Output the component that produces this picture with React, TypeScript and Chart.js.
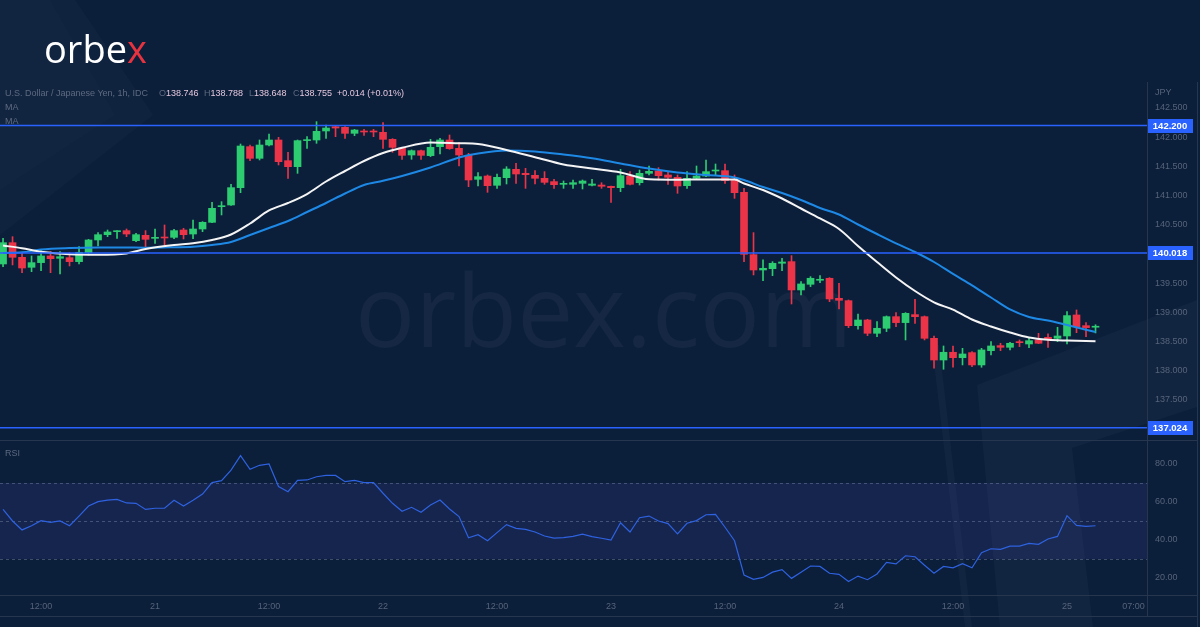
import React, { useEffect, useRef } from 'react';
import { Chart, registerables } from 'chart.js';

Chart.register(...registerables);

// ---------- DATA (USD/JPY, 1h candles, index 0 = 20th 08:00) ----------
const opens = [
  139.829, 140.194, 139.943, 139.772, 139.852, 139.966, 139.926, 139.937, 139.869, 140.023,
  140.240, 140.331, 140.382, 140.400, 140.228, 140.320, 140.268, 140.285, 140.285, 140.411,
  140.342, 140.428, 140.542, 140.810, 140.839, 141.136, 141.838, 141.638, 141.866, 141.952,
  141.598, 141.495, 141.941, 141.952, 142.106, 142.180, 142.169, 142.066, 142.106, 142.100,
  142.083, 141.963, 141.815, 141.695, 141.769, 141.684, 141.838, 141.952, 141.809, 141.689,
  141.278, 141.335, 141.176, 141.307, 141.450, 141.381, 141.347, 141.296, 141.239, 141.193,
  141.193, 141.210, 141.176, 141.181, 141.159, 141.136, 141.335, 141.221, 141.381, 141.421,
  141.353, 141.313, 141.170, 141.296, 141.335, 141.421, 141.427, 141.267, 141.056, 139.989,
  139.726, 139.749, 139.841, 139.869, 139.384, 139.481, 139.550, 139.584, 139.241, 139.201,
  138.773, 138.870, 138.642, 138.728, 138.927, 138.825, 138.962, 138.927, 138.556, 138.185,
  138.317, 138.225, 138.311, 138.100, 138.345, 138.431, 138.402, 138.499, 138.459, 138.528,
  138.573, 138.556, 138.596, 138.956, 138.773, 138.746,
];
const highs = [
  140.268, 140.297, 140.011, 139.966, 140.057, 140.040, 140.040, 140.023, 140.126, 140.251,
  140.365, 140.411, 140.400, 140.428, 140.354, 140.400, 140.428, 140.497, 140.423, 140.440,
  140.582, 140.554, 140.885, 140.896, 141.193, 141.883, 141.866, 141.952, 142.055, 141.998,
  141.741, 141.952, 142.009, 142.266, 142.209, 142.192, 142.180, 142.135, 142.135, 142.135,
  142.249, 141.975, 141.826, 141.781, 141.781, 141.963, 141.980, 142.038, 141.906, 141.724,
  141.393, 141.353, 141.370, 141.495, 141.552, 141.467, 141.427, 141.410, 141.279, 141.250,
  141.267, 141.267, 141.279, 141.221, 141.164, 141.450, 141.410, 141.438, 141.507, 141.478,
  141.410, 141.353, 141.410, 141.507, 141.610, 141.541, 141.541, 141.353, 141.125, 140.366,
  139.898, 139.869, 139.926, 139.972, 139.527, 139.612, 139.629, 139.595, 139.498, 139.213,
  138.973, 138.882, 138.842, 138.939, 138.996, 138.996, 139.224, 138.939, 138.596, 138.425,
  138.425, 138.385, 138.328, 138.385, 138.499, 138.471, 138.488, 138.528, 138.568, 138.642,
  138.631, 138.745, 139.013, 139.042, 138.825, 138.788,
];
const lows = [
  139.783, 139.812, 139.680, 139.697, 139.715, 139.680, 139.658, 139.795, 139.829, 139.983,
  140.137, 140.297, 140.268, 140.297, 140.211, 140.126, 140.183, 140.154, 140.263, 140.257,
  140.263, 140.382, 140.537, 140.668, 140.833, 141.050, 141.598, 141.610, 141.849, 141.524,
  141.296, 141.381, 141.809, 141.895, 141.980, 142.009, 141.980, 142.026, 142.032, 142.009,
  141.809, 141.741, 141.621, 141.621, 141.621, 141.667, 141.712, 141.792, 141.507, 141.153,
  141.164, 141.056, 141.124, 141.199, 141.210, 141.124, 141.199, 141.193, 141.124, 141.124,
  141.124, 141.113, 141.164, 141.124, 140.885, 141.067, 141.181, 141.181, 141.353, 141.267,
  141.193, 141.039, 141.124, 141.279, 141.324, 141.353, 141.210, 140.953, 139.869, 139.641,
  139.544, 139.629, 139.715, 139.144, 139.298, 139.441, 139.510, 139.184, 139.059, 138.739,
  138.711, 138.602, 138.585, 138.671, 138.756, 138.528, 138.813, 138.528, 138.043, 138.026,
  138.060, 138.100, 138.071, 138.060, 138.271, 138.345, 138.357, 138.414, 138.397, 138.465,
  138.402, 138.499, 138.459, 138.653, 138.585, 138.648,
];
const closes = [
  140.194, 139.943, 139.760, 139.852, 139.966, 139.920, 139.954, 139.869, 140.029, 140.240,
  140.331, 140.377, 140.394, 140.342, 140.331, 140.251, 140.280, 140.274, 140.400, 140.331,
  140.428, 140.542, 140.782, 140.822, 141.136, 141.849, 141.638, 141.866, 141.952, 141.581,
  141.495, 141.941, 141.952, 142.100, 142.157, 142.157, 142.066, 142.123, 142.089, 142.089,
  141.963, 141.826, 141.689, 141.769, 141.689, 141.826, 141.952, 141.804, 141.695, 141.267,
  141.324, 141.170, 141.313, 141.455, 141.370, 141.358, 141.296, 141.227, 141.187, 141.210,
  141.221, 141.250, 141.199, 141.159, 141.136, 141.341, 141.193, 141.381, 141.415, 141.341,
  141.313, 141.164, 141.296, 141.335, 141.410, 141.438, 141.256, 141.050, 139.995, 139.726,
  139.755, 139.841, 139.863, 139.384, 139.487, 139.584, 139.567, 139.230, 139.207, 138.773,
  138.870, 138.642, 138.728, 138.927, 138.825, 138.984, 138.927, 138.556, 138.185, 138.317,
  138.225, 138.288, 138.100, 138.357, 138.425, 138.402, 138.471, 138.482, 138.516, 138.471,
  138.539, 138.596, 138.945, 138.756, 138.739, 138.755,
];

// Moving averages read at selected candle indexes
const maIndex = [
  0, 2, 4, 7, 10, 13, 15, 18, 20, 22, 24, 26, 28, 30, 32, 34, 36, 38, 40, 42,
  45, 48, 50, 53, 56, 59, 62, 65, 68, 71, 74, 77, 78, 80, 82, 84, 86, 88, 90, 92,
  94, 96, 98, 100, 102, 104, 106, 108, 110, 112, 115,
];
const maFast = [
  140.146, 140.098, 140.038, 139.995, 139.988, 140.010, 140.086, 140.154, 140.183, 140.240,
  140.334, 140.522, 140.745, 140.873, 141.027, 141.241, 141.421, 141.592, 141.729, 141.818,
  141.911, 141.897, 141.884, 141.781, 141.658, 141.533, 141.464, 141.396, 141.279, 141.272,
  141.277, 141.276, 141.207, 141.096, 140.950, 140.779, 140.608, 140.428, 140.137, 139.863,
  139.598, 139.366, 139.173, 139.046, 138.878, 138.759, 138.656, 138.570, 138.531, 138.517,
  138.505,
];
const maSlow = [
  140.017, 140.029, 140.077, 140.103, 140.113, 140.111, 140.108, 140.115, 140.123, 140.154,
  140.205, 140.325, 140.445, 140.565, 140.719, 140.873, 141.036, 141.182, 141.253, 141.336,
  141.481, 141.652, 141.721, 141.772, 141.755, 141.704, 141.640, 141.550, 141.462, 141.396,
  141.353, 141.310, 141.267, 141.147, 141.045, 140.925, 140.788, 140.676, 140.505, 140.342,
  140.183, 140.034, 139.863, 139.658, 139.464, 139.255, 139.050, 138.921, 138.861, 138.784,
  138.664,
];

const rsiValues = [
  56.1, 50.0, 45.3, 47.5, 50.2, 49.3, 50.0, 47.5, 52.6, 57.9,
  60.2, 61.0, 61.4, 59.5, 59.3, 56.1, 56.7, 56.7, 60.9, 57.9,
  60.9, 64.2, 70.2, 71.2, 76.8, 84.4, 77.2, 79.3, 80.0, 68.1,
  65.4, 71.4, 71.6, 73.3, 74.0, 74.0, 70.7, 71.4, 70.2, 70.2,
  64.6, 59.3, 55.1, 57.2, 54.6, 58.4, 61.0, 56.3, 52.3, 41.2,
  42.8, 39.6, 43.9, 48.1, 46.1, 45.6, 44.2, 42.1, 41.0, 41.2,
  41.9, 43.1, 41.8, 40.9, 40.0, 49.1, 44.2, 51.7, 52.6, 50.0,
  48.6, 43.2, 48.8, 50.2, 53.3, 53.5, 46.7, 39.6, 21.6, 19.3,
  20.3, 23.1, 24.4, 19.8, 23.0, 26.3, 26.1, 22.5, 21.9, 18.2,
  21.0, 19.1, 22.1, 28.2, 27.4, 31.7, 31.2, 26.7, 22.5, 26.1,
  25.3, 27.5, 25.4, 33.3, 35.4, 35.1, 36.8, 36.8, 38.2, 37.7,
  40.5, 41.9, 52.8, 47.7, 47.2, 47.5,
];

const levels = [142.2, 140.018, 137.024];
const priceTicks = [137.5, 138.0, 138.5, 139.0, 139.5, 140.0, 140.5, 141.0, 141.5, 142.0, 142.5];
const rsiTicks = [20, 40, 60, 80];
const rsiBands = [30, 50, 70];
const timeTickIndex = [4, 16, 28, 40, 52, 64, 76, 88, 100, 112, 119];
const timeTickLabels = ['12:00', '21', '12:00', '22', '12:00', '23', '12:00', '24', '12:00', '25', '07:00'];

// visible ranges
const X_MIN = -0.32;
const X_MAX = 120.42;
const PRICE_MIN = 136.815;
const PRICE_MAX = 144.349;
const RSI_MIN = 11.05;
const RSI_MAX = 92.1;

// ---------- STYLE ----------
const BG = '#0b1e3a';
const GREEN = '#2ecc71';
const RED = '#eb3448';
const LEVEL_BLUE = '#2962ff';
const MA_WHITE = '#f4f4f4';
const MA_BLUE = '#1e88e5';
const RSI_BLUE = '#2f62e0';
const AXIS_TEXT = '#56647a';
const LINE_SEP = '#27364f';
const FONT = '"Liberation Sans", Arial, sans-serif';
const AXIS_W = 53;

const zeroPad = (axis: any) => {
  axis.paddingTop = 0;
  axis.paddingBottom = 0;
  axis.paddingLeft = 0;
  axis.paddingRight = 0;
};

const levelPlugin = {
  id: 'levels',
  afterDatasetsDraw(chart: any) {
    const { ctx, chartArea, scales } = chart;
    ctx.save();
    ctx.strokeStyle = LEVEL_BLUE;
    ctx.lineWidth = 1.5;
    levels.forEach((v) => {
      const y = scales.y.getPixelForValue(v);
      ctx.beginPath();
      ctx.moveTo(chartArea.left, y);
      ctx.lineTo(chartArea.right, y);
      ctx.stroke();
    });
    ctx.restore();
  },
  afterDraw(chart: any) {
    const { ctx, chartArea, scales } = chart;
    ctx.save();
    ctx.font = `bold 9.5px ${FONT}`;
    ctx.textAlign = 'center';
    ctx.textBaseline = 'middle';
    levels.forEach((v) => {
      const y = Math.round(scales.y.getPixelForValue(v));
      ctx.fillStyle = LEVEL_BLUE;
      ctx.fillRect(chartArea.right, y - 7, 46, 14);
      ctx.fillStyle = '#ffffff';
      ctx.fillText(v.toFixed(3), chartArea.right + 23, y + 0.5);
    });
    ctx.restore();
  },
};

const bandPlugin = {
  id: 'rsiBand',
  beforeDatasetsDraw(chart: any) {
    const { ctx, chartArea, scales } = chart;
    const yTop = scales.y.getPixelForValue(rsiBands[2]);
    const yBot = scales.y.getPixelForValue(rsiBands[0]);
    ctx.save();
    ctx.fillStyle = 'rgba(60,66,150,0.22)';
    ctx.fillRect(chartArea.left, yTop, chartArea.right - chartArea.left, yBot - yTop);
    ctx.strokeStyle = 'rgba(125,140,170,0.45)';
    ctx.lineWidth = 1;
    ctx.setLineDash([3, 3]);
    rsiBands.forEach((v) => {
      const y = Math.round(scales.y.getPixelForValue(v)) + 0.5;
      ctx.beginPath();
      ctx.moveTo(chartArea.left, y);
      ctx.lineTo(chartArea.right, y);
      ctx.stroke();
    });
    ctx.restore();
  },
};

export default function App() {
  const priceRef = useRef<HTMLCanvasElement>(null);
  const rsiRef = useRef<HTMLCanvasElement>(null);

  useEffect(() => {
    const candleColors = opens.map((o, i) => (closes[i] >= o ? GREEN : RED));
    const bodies = opens.map((o, i) => ({ x: i, y: [o, closes[i]] }));
    const wicks = lows.map((l, i) => ({ x: i, y: [l, highs[i]] }));

    const priceChart = new Chart(priceRef.current as HTMLCanvasElement, {
      type: 'bar',
      data: {
        datasets: [
          {
            type: 'line',
            label: 'MA fast',
            data: maIndex.map((x, k) => ({ x, y: maFast[k] })),
            borderColor: MA_WHITE,
            borderWidth: 2,
            pointRadius: 0,
            cubicInterpolationMode: 'monotone',
            order: 0,
          } as any,
          {
            type: 'line',
            label: 'MA slow',
            data: maIndex.map((x, k) => ({ x, y: maSlow[k] })),
            borderColor: MA_BLUE,
            borderWidth: 2,
            pointRadius: 0,
            cubicInterpolationMode: 'monotone',
            order: 0,
          } as any,
          {
            type: 'bar',
            label: 'body',
            data: bodies,
            backgroundColor: candleColors,
            borderWidth: 0,
            barThickness: 7,
            grouped: false,
            minBarLength: 1,
            order: 1,
          } as any,
          {
            type: 'bar',
            label: 'wick',
            data: wicks,
            backgroundColor: candleColors,
            borderWidth: 0,
            barThickness: 1,
            grouped: false,
            order: 2,
          } as any,
        ],
      },
      options: {
        responsive: false,
        animation: false,
        devicePixelRatio: 1,
        layout: { padding: 0 },
        plugins: { legend: { display: false }, tooltip: { enabled: false } },
        scales: {
          x: {
            type: 'linear',
            min: X_MIN,
            max: X_MAX,
            offset: false,
            display: false,
          },
          y: {
            type: 'linear',
            position: 'right',
            min: PRICE_MIN,
            max: PRICE_MAX,
            grid: { display: false, drawTicks: false },
            border: { display: false },
            ticks: {
              padding: 8,
              color: AXIS_TEXT,
              font: { family: FONT, size: 9 },
              callback: (v: any) => Number(v).toFixed(3),
            },
            afterBuildTicks: (axis: any) => {
              axis.ticks = priceTicks.map((value) => ({ value }));
            },
            afterFit: (axis: any) => {
              axis.width = AXIS_W;
              zeroPad(axis);
            },
          },
        },
      } as any,
      plugins: [levelPlugin],
    });

    const rsiChart = new Chart(rsiRef.current as HTMLCanvasElement, {
      type: 'line',
      data: {
        datasets: [
          {
            label: 'RSI',
            data: rsiValues.map((y, x) => ({ x, y })),
            borderColor: RSI_BLUE,
            borderWidth: 1.2,
            pointRadius: 0,
            tension: 0,
          },
        ],
      },
      options: {
        responsive: false,
        animation: false,
        devicePixelRatio: 1,
        layout: { padding: { bottom: 11 } },
        plugins: { legend: { display: false }, tooltip: { enabled: false } },
        scales: {
          x: {
            type: 'linear',
            min: X_MIN,
            max: X_MAX,
            offset: false,
            grid: { display: false, drawTicks: false },
            border: { display: false },
            ticks: {
              autoSkip: false,
              maxRotation: 0,
              minRotation: 0,
              padding: 6,
              color: AXIS_TEXT,
              font: { family: FONT, size: 9 },
              callback: (v: any) => {
                const k = timeTickIndex.indexOf(Number(v));
                return k >= 0 ? timeTickLabels[k] : '';
              },
            },
            afterBuildTicks: (axis: any) => {
              axis.ticks = timeTickIndex.map((value) => ({ value }));
            },
            afterFit: (axis: any) => {
              axis.height = 21;
              zeroPad(axis);
            },
          },
          y: {
            type: 'linear',
            position: 'right',
            min: RSI_MIN,
            max: RSI_MAX,
            grid: { display: false, drawTicks: false },
            border: { display: false },
            ticks: {
              padding: 8,
              color: AXIS_TEXT,
              font: { family: FONT, size: 9 },
              callback: (v: any) => Number(v).toFixed(2),
            },
            afterBuildTicks: (axis: any) => {
              axis.ticks = rsiTicks.map((value) => ({ value }));
            },
            afterFit: (axis: any) => {
              axis.width = AXIS_W;
              zeroPad(axis);
            },
          },
        },
      } as any,
      plugins: [bandPlugin],
    });

    return () => {
      priceChart.destroy();
      rsiChart.destroy();
    };
  }, []);

  const small = { fontFamily: FONT, fontSize: 9 } as any;

  return (
    <div
      style={{
        position: 'fixed',
        left: 0,
        top: 0,
        width: 1200,
        height: 627,
        background: BG,
        overflow: 'hidden',
      }}
    >
      {/* background decorations + watermark */}
      <svg width={1200} height={627} style={{ position: 'absolute', left: 0, top: 0 }}>
        <path d="M0 0 L75 0 L153 115 L0 235 Z" fill="rgba(255,255,255,0.025)" />
        <path d="M0 0 L50 0 L115 115 L0 190 Z" fill="rgba(255,255,255,0.012)" />
        <path d="M932 345 L939 345 L972 627 L965 627 Z" fill="rgba(255,255,255,0.03)" />
        <path
          d="M977 385 L1197 300 L1197 627 L1000 627 Z M1072 448 L1197 407 L1197 627 L1093 627 Z"
          fillRule="evenodd"
          fill="rgba(255,255,255,0.03)"
        />
        <text
          x={355}
          y={347}
          fontFamily='"Open Sans", sans-serif'
          fontSize={100}
          fill="rgba(255,255,255,0.045)"
        >
          orbex.com
        </text>
      </svg>

      <canvas
        ref={priceRef}
        width={1200}
        height={440}
        style={{ position: 'absolute', left: 0, top: 0, width: 1200, height: 440 }}
      />
      <canvas
        ref={rsiRef}
        width={1200}
        height={186}
        style={{ position: 'absolute', left: 0, top: 441, width: 1200, height: 186 }}
      />

      {/* overlay: separators, logo, legend text */}
      <svg
        width={1200}
        height={627}
        style={{ position: 'absolute', left: 0, top: 0, pointerEvents: 'none' }}
      >
        <line x1={1147.5} y1={82} x2={1147.5} y2={616} stroke={LINE_SEP} strokeWidth={1} />
        <line x1={1197.5} y1={82} x2={1197.5} y2={627} stroke={LINE_SEP} strokeWidth={1} />
        <line x1={0} y1={440.5} x2={1198} y2={440.5} stroke={LINE_SEP} strokeWidth={1} />
        <line x1={0} y1={595.5} x2={1198} y2={595.5} stroke={LINE_SEP} strokeWidth={1} />
        <line x1={0} y1={616.5} x2={1198} y2={616.5} stroke={LINE_SEP} strokeWidth={1} />

        <text x={44} y={62.5} fontFamily='"Open Sans", sans-serif' fontSize={38} fill="#ffffff">
          orbe<tspan fill="#e63340">x</tspan>
        </text>

        <g style={small}>
          <text x={5} y={96} fill="#5d6a80">U.S. Dollar / Japanese Yen, 1h, IDC</text>
          <text x={159} y={96} fill="#5d6a80">O<tspan fill="#e3c6dc">138.746</tspan></text>
          <text x={204} y={96} fill="#5d6a80">H<tspan fill="#e3c6dc">138.788</tspan></text>
          <text x={249} y={96} fill="#5d6a80">L<tspan fill="#e3c6dc">138.648</tspan></text>
          <text x={293} y={96} fill="#5d6a80">C<tspan fill="#e3c6dc">138.755</tspan></text>
          <text x={337} y={96} fill="#e3c6dc">+0.014 (+0.01%)</text>
          <text x={5} y={110} fill="#5d6a80">MA</text>
          <text x={5} y={124} fill="#5d6a80">MA</text>
          <text x={5} y={456} fill="#5d6a80">RSI</text>
          <text x={1155} y={95} fill={AXIS_TEXT}>JPY</text>
        </g>
      </svg>
    </div>
  );
}
